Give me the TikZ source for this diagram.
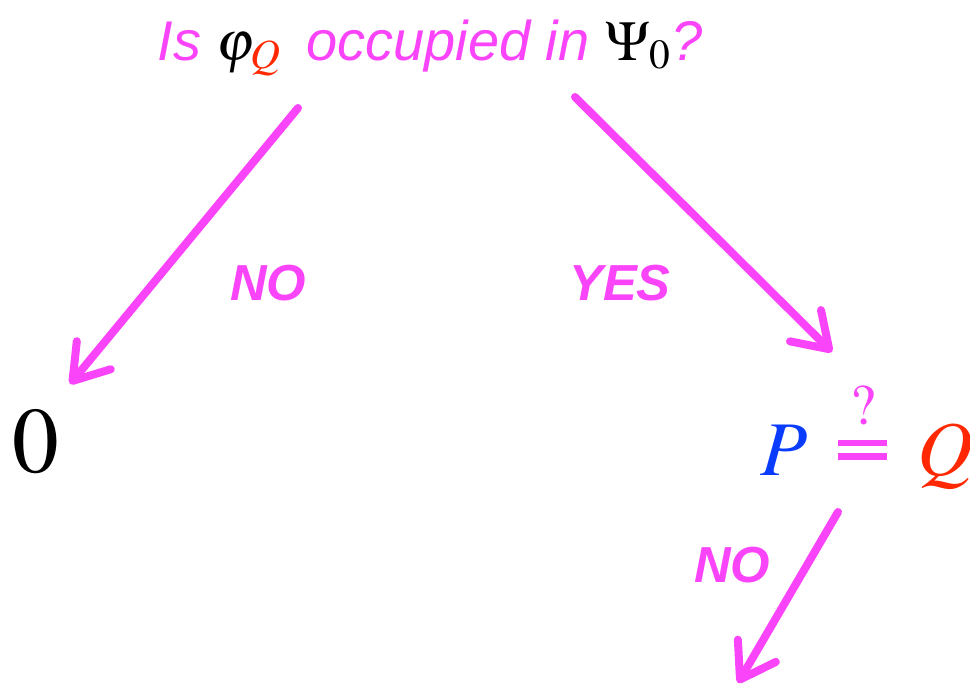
\documentclass[tikz,border=0pt]{standalone}
\usepackage{amsmath}
\usepackage{mathptmx}
\usepackage{fontspec}
\setsansfont{Liberation Sans}
\usepackage{xcolor}
\usetikzlibrary{arrows.meta}
\definecolor{askpink}{RGB}{250,68,250}
\definecolor{qred}{RGB}{255,40,0}
\definecolor{pblue}{RGB}{10,60,255}
% thick equals sign of the comparison
\newcommand{\fateq}{\text{\raisebox{11.5pt}{\vbox{\hrule width 37pt height 5pt\kern5pt\hrule width 37pt height 5pt}}}}

\begin{document}
\begin{tikzpicture}[x=0.75pt,y=-0.75pt,
  crayon/.style={askpink,line width=6pt,line cap=round,-{Straight Barb[length=25pt,width=33pt,round]}},
  answer/.style={text=askpink,font=\fontsize{38}{40}\selectfont\sffamily\bfseries\itshape}]
\useasboundingbox (0,0) rectangle (970,690);
% question and outcomes
\node[anchor=base,text=askpink,font=\fontsize{42}{48}\selectfont\sffamily\itshape] (ask) at (430,60)
  {Is $\color{black}\varphi_{\color{qred}Q}$\, occupied in $\color{black}\Psi_0$?};
\node[anchor=base,font=\fontsize{70}{72}\selectfont] (zero) at (36,472) {$0$};
\node[anchor=base west,font=\fontsize{58}{60}\selectfont] (cmp) at (756,475)
  {${\color{pblue}P}\mkern3mu\mathrel{\color{askpink}\overset{?}{\fateq}}\mkern3mu{\color{qred}Q}$};
% answers
\node[answer] (no1) at (268,283) {NO};
\node[answer] (yes) at (620,283) {YES};
\node[answer] (no2) at (732,565) {NO};
% crayon arrows
\coordinate (no1-from) at (298,108);
\coordinate (no1-to) at (70,384);
\coordinate (yes-from) at (575,97);
\coordinate (yes-to) at (832,352);
\coordinate (no2-from) at (838,512);
\coordinate (no2-to) at (738,683);
\draw[crayon] (no1-from) -- (no1-to);
\draw[crayon] (yes-from) -- (yes-to);
\draw[crayon] (no2-from) -- (no2-to);
\end{tikzpicture}
\end{document}
